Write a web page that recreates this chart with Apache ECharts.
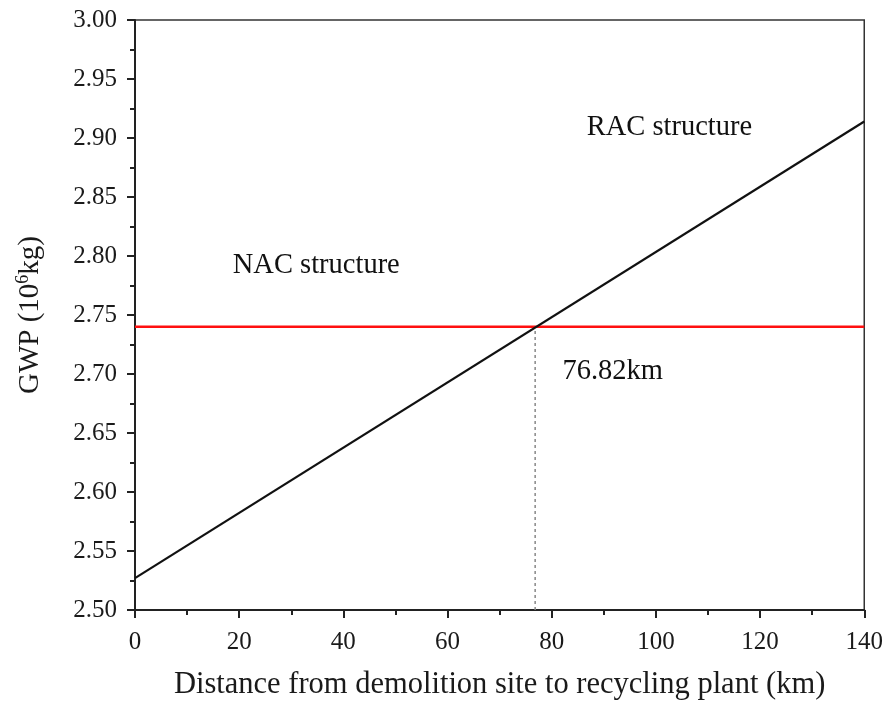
<!DOCTYPE html>
<html>
<head>
<meta charset="utf-8">
<script src="https://cdn.jsdelivr.net/npm/echarts@6/dist/echarts.min.js"></script>
<style>html,body{margin:0;padding:0;background:#fff}#c{width:886px;height:705px}</style>
</head>
<body>
<div id="c"></div>
<script>
// Data
var xTicks = [0, 20, 40, 60, 80, 100, 120, 140];
var racLine = [[0, 2.527], [140, 2.914]];      // GWP of RAC structure vs distance
var nacLine = [[0, 2.74], [140, 2.74]];        // GWP of NAC structure (constant)
var crossX = 76.82;
var crossY = 2.74;
var dropLine = [[crossX, 2.50], [crossX, crossY]];
var labels = [
  {name: 'RAC structure', value: [102.6, 2.909]},
  {name: 'NAC structure', value: [34.8, 2.792]},
  {name: '76.82km', value: [91.7, 2.702]}
];

var font = '"Liberation Serif", "Times New Roman", serif';
var chart = echarts.init(document.getElementById('c'));
chart.setOption({
  animation: false,
  backgroundColor: '#fff',
  grid: {left: 135, right: 19, top: 20, bottom: 95, show: true, borderColor: '#333', borderWidth: 1.5, backgroundColor: 'transparent'},
  xAxis: {
    type: 'value', min: 0, max: 140, interval: 20,
    name: 'Distance from demolition site to recycling plant (km)',
    nameLocation: 'middle', nameGap: 59,
    nameTextStyle: {fontFamily: font, fontSize: 30.5, color: '#1a1a1a'},
    axisLine: {lineStyle: {color: '#222', width: 2}},
    axisTick: {show: true, length: 8, lineStyle: {color: '#222', width: 2}},
    minorTick: {show: true, splitNumber: 2, length: 5, lineStyle: {color: '#222', width: 2}},
    axisLabel: {fontFamily: font, fontSize: 25, color: '#1a1a1a', margin: 20},
    splitLine: {show: false}
  },
  yAxis: {
    type: 'value', min: 2.5, max: 3.0, interval: 0.05,
    name: '{a|GWP (10}{s|6}{a|kg)}',
    nameLocation: 'middle', nameGap: 89, nameRotate: 90,
    nameTextStyle: {fontFamily: font, fontSize: 29, color: '#1a1a1a',
      rich: {a: {fontFamily: font, fontSize: 29, color: '#1a1a1a'},
             s: {fontFamily: font, fontSize: 18, color: '#1a1a1a', padding: [0, 0, 14, 0]}}},
    axisLine: {show: true, lineStyle: {color: '#222', width: 2}},
    axisTick: {show: true, length: 8, lineStyle: {color: '#222', width: 2}},
    minorTick: {show: true, splitNumber: 2, length: 5, lineStyle: {color: '#222', width: 2}},
    axisLabel: {fontFamily: font, fontSize: 25, color: '#1a1a1a', margin: 18,
      formatter: function (v) { return v.toFixed(2); }},
    splitLine: {show: false}
  },
  series: [
    {type: 'line', data: nacLine, symbol: 'none', lineStyle: {color: '#ff1010', width: 2.5}, z: 3},
    {type: 'line', data: racLine, symbol: 'none', lineStyle: {color: '#111', width: 2.2}, z: 4},
    {type: 'line', data: dropLine, symbol: 'none', lineStyle: {color: '#888', width: 1.5, type: [3, 3]}, z: 2},
    {type: 'scatter', data: labels, symbolSize: 0, silent: true,
      label: {show: true, position: 'inside', formatter: '{b}', fontFamily: font, fontSize: 28.5,
        color: '#111', opacity: 1, textBorderWidth: 0}}
  ]
});
</script>
</body>
</html>
